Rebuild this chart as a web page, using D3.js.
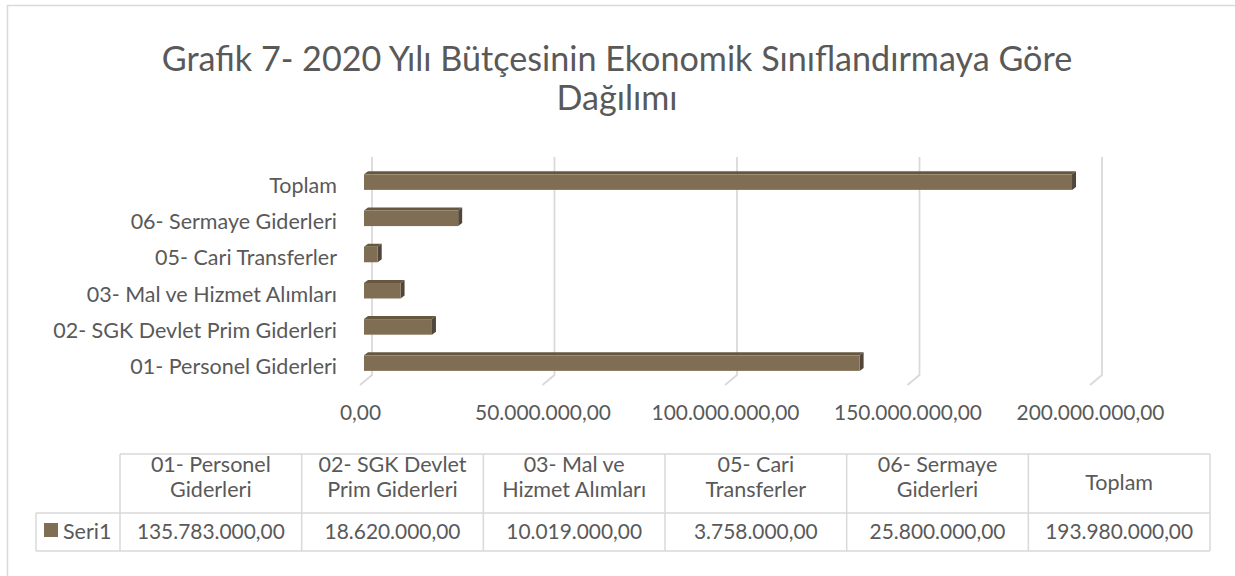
<!DOCTYPE html>
<html>
<head>
<meta charset="utf-8">
<script src="https://cdn.jsdelivr.net/npm/d3@7"></script>
<style>
  body { margin: 0; background: #fff; }
  svg { display: block; }
</style>
</head>
<body>
<div id="chart"></div>
<script>
// chart data
const categories = ["01- Personel Giderleri", "02- SGK Devlet Prim Giderleri", "03- Mal ve Hizmet Alımları",
    "05- Cari Transferler", "06- Sermaye Giderleri", "Toplam"];
const values = [135783000, 18620000, 10019000, 3758000, 25800000, 193980000];
const headerLines = [["01- Personel", "Giderleri"], ["02- SGK Devlet", "Prim Giderleri"], ["03- Mal ve", "Hizmet Alımları"],
    ["05- Cari", "Transferler"], ["06- Sermaye", "Giderleri"], ["Toplam"]];
const seriesName = "Seri1";
const tickValues = [0, 50000000, 100000000, 150000000, 200000000];
const titleLines = ["Grafik 7- 2020 Yılı Bütçesinin Ekonomik Sınıflandırmaya Göre", "Dağılımı"];

const FONT = "Lato, 'Open Sans', sans-serif";
const TEXT = "#595959";
const GRID = "#d9d9d9";
const barFront = "#806e54", barTop = "#66573f", barSide = "#52463a";

const width = 1235, height = 576;
const svg = d3.select("#chart").append("svg")
    .attr("width", width)
    .attr("height", height);

// size a font so a sample string has the wanted width
function fitSize(text, target, weight) {
    let t = svg.append("text").style("font-family", FONT).style("font-size", "100px")
        .style("font-weight", weight || 400).text(text);
    let w = t.node().getComputedTextLength();
    t.remove();
    return 100 * target / w;
}

const titleSize = fitSize(titleLines[0], 911);
const labelSize = fitSize("02- SGK Devlet Prim Giderleri", 284);
const numSize = fitSize("193.980.000,00", 148);
const headSize = fitSize("01- Personel", 120);

const loc = d3.formatLocale({decimal: ",", thousands: ".", grouping: [3], currency: ["", ""]});
const fmt = loc.format(",.2f");

// outer chart border
svg.append("rect")
    .attr("x", 7.5).attr("y", 5.5)
    .attr("width", 1240).attr("height", 600)
    .attr("fill", "none").attr("stroke", GRID).attr("stroke-width", 1.5);

// title
svg.append("g").selectAll("text")
    .data(titleLines)
    .join("text")
    .attr("x", 617)
    .attr("y", (d, i) => 71 + i * 39)
    .attr("text-anchor", "middle")
    .style("font-family", FONT)
    .style("font-size", titleSize + "px")
    .attr("fill", TEXT)
    .text(d => d);

// 3D offsets: back wall vs front floor, bar depth
const wallDx = 8, floorDx = 12, floorDy = 10;
const barDx = 4, barDy = 3;
const wallTop = 157, wallBottom = 375;

const x = d3.scaleLinear().domain([0, 200000000]).range([364, 1094]);
const y = d3.scaleBand()
    .domain(categories.slice().reverse())
    .range([164, 381.2])
    .paddingInner(0.57)
    .paddingOuter(0.285);

// gridlines on back wall with floor diagonal
const grid = svg.append("g");
grid.selectAll("path")
    .data(tickValues)
    .join("path")
    .attr("d", d => {
        let xb = x(d) + wallDx;
        return "M" + xb + "," + wallTop + "V" + wallBottom + "L" + (xb - floorDx) + "," + (wallBottom + floorDy);
    })
    .attr("fill", "none")
    .attr("stroke", GRID)
    .attr("stroke-width", 1.75);

// value axis labels at front floor
const xLab = x.copy().range(x.range().map(v => v + wallDx - floorDx));
const xAxis = svg.append("g")
    .attr("transform", "translate(0,405)")
    .call(d3.axisBottom(xLab).tickValues(tickValues).tickSize(0).tickFormat(fmt));
xAxis.select(".domain").remove();
xAxis.selectAll("text")
    .attr("y", 0).attr("dy", "0.71em")
    .style("font-family", FONT)
    .style("font-size", numSize + "px")
    .attr("fill", TEXT);

// category labels
const yAxis = svg.append("g")
    .attr("transform", "translate(337,4)")
    .call(d3.axisLeft(y).tickSize(0).tickPadding(0));
yAxis.select(".domain").remove();
yAxis.selectAll("text")
    .style("font-family", FONT)
    .style("font-size", labelSize + "px")
    .attr("fill", TEXT);

// bars drawn as 3D boxes
const rows = categories.map((c, i) => ({cat: c, val: values[i]}));
const bars = svg.append("g").selectAll("g")
    .data(rows)
    .join("g");

bars.append("path")
    .attr("d", d => {
        let x0 = x(0), x1 = x(d.val), y0 = y(d.cat);
        return "M" + x0 + "," + y0 + "L" + (x0 + barDx) + "," + (y0 - barDy) + "L" + (x1 + barDx) + "," + (y0 - barDy) + "L" + x1 + "," + y0 + "Z";
    })
    .attr("fill", barTop);

bars.append("path")
    .attr("d", d => {
        let x1 = x(d.val), y0 = y(d.cat), h = y.bandwidth();
        return "M" + x1 + "," + y0 + "L" + (x1 + barDx) + "," + (y0 - barDy) + "L" + (x1 + barDx) + "," + (y0 + h - barDy) + "L" + x1 + "," + (y0 + h) + "Z";
    })
    .attr("fill", barSide);

bars.append("rect")
    .attr("x", x(0))
    .attr("y", d => y(d.cat))
    .attr("width", d => x(d.val) - x(0))
    .attr("height", y.bandwidth())
    .attr("fill", barFront);

// data table
const col = d3.scaleBand().domain(categories).range([120, 1210]);
const tTop = 454, tMid = 513, tBot = 551, legL = 36;
const table = svg.append("g")
    .attr("stroke", GRID)
    .attr("stroke-width", 1.5)
    .attr("fill", "none");

table.append("line").attr("x1", col.range()[0]).attr("x2", col.range()[1]).attr("y1", tTop).attr("y2", tTop);
table.append("line").attr("x1", legL).attr("x2", col.range()[1]).attr("y1", tMid).attr("y2", tMid);
table.append("line").attr("x1", legL).attr("x2", col.range()[1]).attr("y1", tBot).attr("y2", tBot);
table.append("line").attr("x1", legL).attr("x2", legL).attr("y1", tMid).attr("y2", tBot);
table.selectAll(".vline")
    .data(categories.map(c => col(c)).concat([col.range()[1]]))
    .join("line")
    .attr("class", "vline")
    .attr("x1", d => d).attr("x2", d => d)
    .attr("y1", tTop).attr("y2", tBot);

// header texts, one text per line
const headRows = [];
headerLines.forEach((lines, i) => {
    let base = lines.length === 1 ? 490 : 472;
    lines.forEach((l, j) => headRows.push({cat: categories[i], text: l, y: base + j * 25}));
});
svg.append("g").selectAll("text")
    .data(headRows)
    .join("text")
    .attr("x", d => col(d.cat) + col.bandwidth() / 2)
    .attr("y", d => d.y)
    .attr("text-anchor", "middle")
    .style("font-family", FONT)
    .style("font-size", headSize + "px")
    .attr("fill", TEXT)
    .text(d => d.text);

// value row
svg.append("g").selectAll("text")
    .data(rows)
    .join("text")
    .attr("x", d => col(d.cat) + col.bandwidth() / 2)
    .attr("y", 539)
    .attr("text-anchor", "middle")
    .style("font-family", FONT)
    .style("font-size", numSize + "px")
    .attr("fill", TEXT)
    .text(d => fmt(d.val));

// legend key in table
svg.append("rect")
    .attr("x", 44).attr("y", 523)
    .attr("width", 14).attr("height", 14)
    .attr("fill", barFront);
svg.append("text")
    .attr("x", 63).attr("y", 539)
    .style("font-family", FONT)
    .style("font-size", headSize + "px")
    .attr("fill", TEXT)
    .text(seriesName);
</script>
</body>
</html>
